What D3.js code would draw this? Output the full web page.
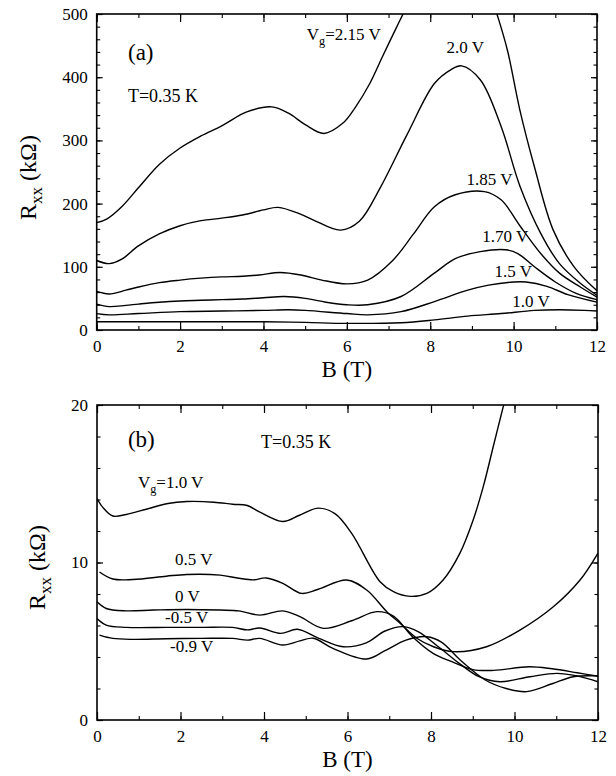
<!DOCTYPE html>
<html>
<head>
<meta charset="utf-8">
<script src="https://cdn.jsdelivr.net/npm/d3@7"></script>
<style>
body { margin: 0; background: #fff; }
svg { display: block; }
text { font-family: "Liberation Serif", "Times New Roman", serif; fill: #000; }
</style>
</head>
<body>
<svg id="chart" width="616" height="776"></svg>
<script>
// ---- data: [B (T), Rxx] ----
const xTicks = [0, 2, 4, 6, 8, 10, 12];

// panel (a), Rxx in kOhm
const yTicksA = [0, 100, 200, 300, 400, 500];
const rA215 = [[0,170],[0.25,176],[0.6,195],[1.0,225],[1.5,262],[2.0,288],[2.5,307],[3.0,323],[3.6,345],[4.2,353],[4.6,343],[5.0,325],[5.45,311],[5.9,327],[6.2,352],[6.55,390],[6.85,432],[7.2,480],[7.5,520],[8.0,580],[8.6,610],[9.2,580],[9.6,500],[9.85,443],[10.15,348],[10.5,258],[10.95,158],[11.45,100],[12,62]];
const rA200 = [[0,110],[0.3,105],[0.6,112],[1.0,133],[1.5,152],[2.0,165],[2.5,173],[3.0,177],[3.5,182],[4.0,190],[4.35,194],[4.9,183],[5.2,174],[5.85,158],[6.3,172],[6.8,225],[7.45,310],[8.1,390],[8.5,412],[8.75,418],[9.2,396],[9.7,322],[10.15,228],[10.65,153],[11.1,105],[11.6,74],[12,55]];
const rA185 = [[0,61],[0.3,57],[0.7,63],[1.0,68],[1.5,75],[2.0,79],[2.5,82],[3.0,84],[3.5,85],[3.9,87],[4.4,91],[4.9,87],[5.4,79],[6.0,73],[6.5,79],[7.1,110],[7.6,152],[8.1,195],[8.6,214],[9.3,219],[9.7,206],[10.15,165],[10.65,121],[11.1,90],[11.6,68],[12,52]];
const rA170 = [[0,41],[0.3,37],[0.7,39],[1.0,41],[1.5,44],[2.0,46],[2.5,47],[3.0,48],[3.5,49],[4.0,51],[4.5,53],[5.0,50],[5.5,44],[6.0,40],[6.5,40],[7.3,53],[8.1,90],[8.6,113],[9.2,124],[9.8,127],[10.1,121],[10.5,100],[11.0,76],[11.5,58],[12,48]];
const rA150 = [[0,26],[0.3,24],[1.0,26],[2.0,29],[3.0,30],[4.0,31],[4.6,32],[5.0,31],[6.0,26],[6.5,24],[7.3,29],[8.1,45],[8.9,63],[9.4,71],[10.0,76],[10.3,76],[10.8,69],[11.3,56],[12,44]];
const rA100 = [[0,13],[1,13],[2,13],[3,13],[4,13],[5,12],[6,10.5],[7.3,11.5],[8.1,16],[8.9,22],[9.7,26],[10.5,31],[11.1,32],[11.7,31],[12,30]];

// panel (b), Rxx in kOhm
const yTicksB = [0, 10, 20];
const rB100 = [[0,14.06],[0.14,13.5],[0.38,12.95],[0.7,13.05],[1.2,13.4],[1.7,13.75],[2.15,13.87],[2.8,13.83],[3.25,13.7],[3.6,13.62],[3.9,13.2],[4.45,12.6],[4.85,13.0],[5.3,13.45],[5.7,13.1],[6.1,11.85],[6.78,8.78],[7.1,8.15],[7.5,7.85],[7.9,8.04],[8.29,8.89],[8.69,10.58],[9.01,12.7],[9.25,14.8],[9.49,17.35],[9.65,19.05],[9.8,20.6]];
const rB050 = [[0.06,9.4],[0.38,8.95],[0.86,8.92],[1.66,9.13],[2.15,9.24],[2.95,9.2],[3.4,9.0],[3.75,8.9],[4.05,9.02],[4.45,8.68],[4.9,8.04],[5.3,8.3],[5.98,8.89],[6.46,8.25],[6.94,6.88],[7.26,6.14],[7.66,5.19],[8.06,4.65],[8.53,4.34],[9.33,4.65],[10.13,5.71],[10.93,7.19],[11.57,8.89],[12,10.6]];
const rB000 = [[0,7.5],[0.22,7.08],[0.7,6.93],[1.35,6.98],[2.15,7.02],[2.95,6.98],[3.4,6.93],[3.9,6.66],[4.45,6.93],[4.86,6.56],[5.42,5.82],[6.1,6.3],[6.7,6.88],[7.1,6.6],[7.55,5.3],[8.05,4.23],[8.5,3.7],[9.0,3.2],[9.5,3.15],[10.35,3.38],[10.9,3.25],[11.5,3.0],[12,2.78]];
const rBm05 = [[0,6.45],[0.22,6.03],[0.7,5.88],[1.7,5.88],[2.5,5.88],[3.25,5.88],[3.6,5.72],[3.9,5.84],[4.4,5.5],[4.8,5.76],[5.3,5.2],[5.9,4.65],[6.45,4.9],[6.9,5.65],[7.34,5.93],[7.7,5.6],[8.2,4.6],[8.7,3.55],[9.15,2.75],[9.65,2.43],[10.37,2.75],[11.01,2.96],[11.5,2.8],[12,2.43]];
const rBm09 = [[0.06,5.39],[0.38,5.18],[0.86,5.12],[1.66,5.16],[2.5,5.18],[3.25,5.18],[3.6,5.07],[3.9,5.18],[4.45,4.76],[4.86,5.02],[5.18,5.19],[5.65,4.55],[6.46,3.87],[6.9,4.4],[7.4,5.07],[7.9,5.29],[8.25,4.95],[8.7,3.81],[9.3,2.54],[9.8,2.0],[10.29,1.8],[10.9,2.3],[11.41,2.75],[12,2.8]];

// curve labels: [text before subscript, subscript, text after]
const labelsA = [
  { text: ['V', 'g', '=2.15 V'], at: [5.04, 459] },
  { text: ['2.0 V'], at: [8.39, 438] },
  { text: ['1.85 V'], at: [8.87, 229] },
  { text: ['1.70 V'], at: [9.25, 139] },
  { text: ['1.5 V'], at: [9.54, 84] },
  { text: ['1.0 V'], at: [9.97, 36] }
];
const labelsB = [
  { text: ['V', 'g', '=1.0 V'], at: [0.98, 14.73] },
  { text: ['0.5 V'], at: [1.87, 9.84] },
  { text: ['0 V'], at: [1.87, 7.49] },
  { text: ['-0.5 V'], at: [1.63, 6.16] },
  { text: ['-0.9 V'], at: [1.75, 4.32] }
];

const FONT = '"Liberation Serif", "Times New Roman", serif';
const svg = d3.select('#chart');

function addText(g, parts, x, y, size) {
    const t = g.append('text').attr('x', x).attr('y', y)
        .attr('font-family', FONT).attr('font-size', size);
    t.append('tspan').text(parts[0]);
    if (parts.length > 1) {
        t.append('tspan').attr('dy', size * 0.3).attr('font-size', size * 0.72).text(parts[1]);
        t.append('tspan').attr('dy', -size * 0.3).text(parts[2]);
    }
    return t;
}

function drawPanel(p) {
    const x = d3.scaleLinear().domain([0, 12]).range([p.left, p.right]);
    const y = d3.scaleLinear().domain(p.yDomain).range([p.bottom, p.top]);
    const g = svg.append('g');

    const clipId = 'clip-' + p.id;
    g.append('clipPath').attr('id', clipId)
        .append('rect')
        .attr('x', p.left).attr('y', p.top)
        .attr('width', p.right - p.left).attr('height', p.bottom - p.top);

    const line = d3.line()
        .x(d => x(d[0]))
        .y(d => y(d[1]))
        .curve(d3.curveCatmullRom.alpha(0.5));

    g.append('g')
        .attr('clip-path', `url(#${clipId})`)
        .selectAll('path')
        .data(p.series)
        .join('path')
        .attr('d', line)
        .attr('fill', 'none')
        .attr('stroke', '#000')
        .attr('stroke-width', 1.4);

    // inward ticks on all four sides
    const xMinor = d3.range(0, 12.01, 1);
    const yMinor = d3.range(p.yDomain[0], p.yDomain[1] + 1e-6, p.yMinorStep);
    const axes = [
        [d3.axisBottom(x), `translate(0,${p.bottom})`, true],
        [d3.axisTop(x), `translate(0,${p.top})`, false],
        [d3.axisLeft(y), `translate(${p.left},0)`, true],
        [d3.axisRight(y), `translate(${p.right},0)`, false]
    ];
    axes.forEach(([axis, tr, labelled], i) => {
        const isX = i < 2;
        g.append('g').attr('transform', tr)
            .call(axis.tickValues(isX ? xMinor : yMinor).tickSize(isX ? -4 : -3.5).tickSizeOuter(0).tickFormat(''))
            .call(a => a.select('.domain').remove())
            .call(a => a.selectAll('line').attr('stroke-width', 1.1));
        g.append('g').attr('transform', tr)
            .call(axis.tickValues(isX ? xTicks : p.yTicks).tickSize(isX ? -8 : -6).tickSizeOuter(0)
                .tickPadding(isX ? 10 : 9).tickFormat(labelled ? d3.format('d') : ''))
            .attr('font-family', FONT)
            .call(a => a.select('.domain').remove())
            .call(a => a.selectAll('line').attr('stroke-width', 1.2))
            .call(a => a.selectAll('text')
                .attr('font-size', 17)
                .attr('fill', '#000'));
    });

    g.append('rect')
        .attr('x', p.left).attr('y', p.top)
        .attr('width', p.right - p.left).attr('height', p.bottom - p.top)
        .attr('fill', 'none').attr('stroke', '#000').attr('stroke-width', 1.6);

    // curve labels
    p.labels.forEach(l => addText(g, l.text, x(l.at[0]), y(l.at[1]), 17));

    // panel tag and temperature
    addText(g, [p.tag], x(p.tagAt[0]), y(p.tagAt[1]), 23);
    addText(g, ['T=0.35 K'], x(p.tempAt[0]), y(p.tempAt[1]), 18);

    // axis titles
    g.append('text')
        .attr('x', (p.left + p.right) / 2)
        .attr('y', p.xTitleY)
        .attr('text-anchor', 'middle')
        .attr('font-family', FONT)
        .attr('font-size', 23)
        .text('B (T)');

    const yt = g.append('text')
        .attr('transform', `translate(${p.yTitleX},${(p.top + p.bottom) / 2 + p.yTitleShift}) rotate(-90)`)
        .attr('text-anchor', 'middle')
        .attr('font-family', FONT)
        .attr('font-size', 24);
    yt.append('tspan').text('R');
    yt.append('tspan').attr('dy', 6).attr('font-size', 17).text('xx');
    yt.append('tspan').attr('dy', -6).text(' (kΩ)');
}

drawPanel({
    id: 'a', left: 96.7, right: 597, top: 14, bottom: 330,
    yDomain: [0, 500], yTicks: yTicksA, yMinorStep: 20,
    series: [rA215, rA200, rA185, rA170, rA150, rA100],
    labels: labelsA,
    tag: '(a)', tagAt: [0.75, 427], tempAt: [0.75, 361],
    xTitleY: 377, yTitleX: 36, yTitleShift: 5.5
});

drawPanel({
    id: 'b', left: 97, right: 598, top: 405, bottom: 720,
    yDomain: [0, 20], yTicks: yTicksB, yMinorStep: 2,
    series: [rB100, rB050, rB000, rBm05, rBm09],
    labels: labelsB,
    tag: '(b)', tagAt: [0.74, 17.33], tempAt: [3.93, 17.27],
    xTitleY: 767, yTitleX: 45, yTitleShift: 5
});
</script>
</body>
</html>
